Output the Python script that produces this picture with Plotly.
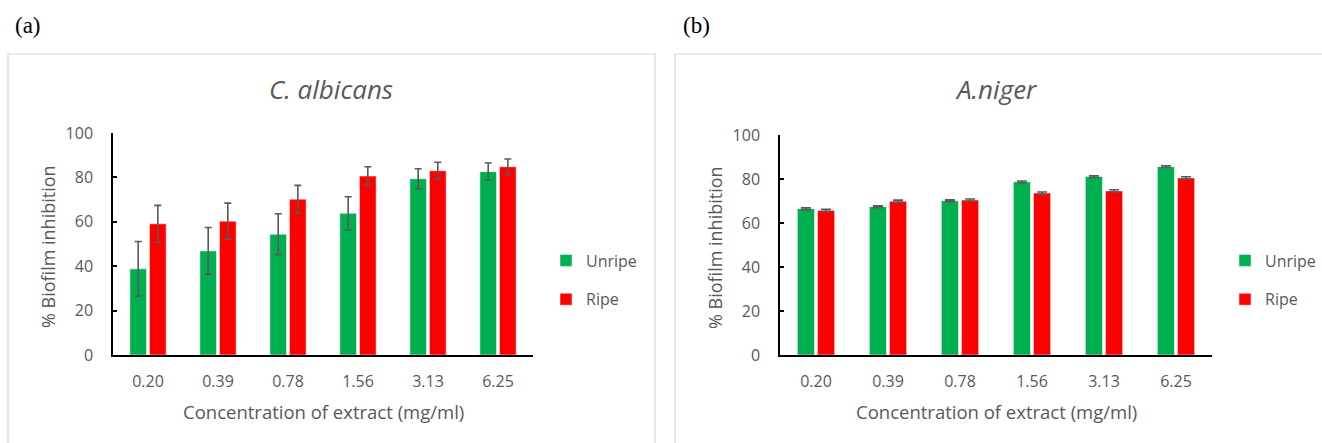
import plotly.graph_objects as go

categories = ["0.20", "0.39", "0.78", "1.56", "3.13", "6.25"]

# (a) C. albicans
ca_unripe = [38.8, 46.9, 54.4, 63.8, 79.4, 82.6]
ca_unripe_err = [12.3, 10.5, 9.2, 7.5, 4.5, 3.9]
ca_ripe = [59.1, 60.3, 70.2, 80.6, 83.0, 84.8]
ca_ripe_err = [8.3, 8.1, 6.2, 4.2, 3.8, 3.5]

# (b) A. niger
an_unripe = [66.5, 67.4, 70.1, 78.7, 81.1, 85.6]
an_unripe_err = [0.4, 0.4, 0.4, 0.4, 0.4, 0.4]
an_ripe = [65.7, 69.9, 70.4, 73.6, 74.6, 80.5]
an_ripe_err = [0.5, 0.5, 0.5, 0.5, 0.5, 0.5]

GREEN = "#00B050"
RED = "#FF0000"
GRAY = "#595959"
FONT = "Open Sans"
W, H = 1322, 443

def px(x):
    return x / W

def py(y):
    return 1 - y / H

fig = go.Figure()

def add_bars(vals, errs, name, color, xa, ya, legend, cap):
    fig.add_trace(go.Bar(
        x=categories, y=vals, name=name, xaxis=xa, yaxis=ya, legend=legend,
        legendgroup=legend + name,
        marker=dict(color=color, line=dict(color="rgba(255,255,255,0.5)", width=1)),
        error_y=dict(type="data", array=errs, visible=True, color=GRAY,
                     thickness=1.6, width=cap),
    ))

add_bars(ca_unripe, ca_unripe_err, "Unripe", GREEN, "x", "y", "legend", 3.5)
add_bars(ca_ripe, ca_ripe_err, "Ripe", RED, "x", "y", "legend", 3.5)
add_bars(an_unripe, an_unripe_err, "Unripe", GREEN, "x2", "y2", "legend2", 5)
add_bars(an_ripe, an_ripe_err, "Ripe", RED, "x2", "y2", "legend2", 5)

xcommon = dict(type="category", showline=True, linecolor="black", linewidth=1.5,
               ticks="", showgrid=False, zeroline=False, automargin=False,
               tickfont=dict(family=FONT, size=16, color=GRAY),
               ticklabelstandoff=11, fixedrange=True)
ycommon = dict(range=[0, 100], dtick=20, showline=True, linecolor="black", linewidth=1.5,
               ticks="inside", ticklen=4, tickcolor="black", tickwidth=1.5,
               showgrid=False, zeroline=False, automargin=False,
               tickfont=dict(family=FONT, size=16, color=GRAY),
               ticklabelstandoff=15, fixedrange=True)

legend_font = dict(family=FONT, size=16, color=GRAY)

fig.update_layout(
    width=W, height=H, autosize=False,
    margin=dict(l=0, r=0, t=0, b=0, autoexpand=False),
    paper_bgcolor="white", plot_bgcolor="white",
    barmode="group", bargap=0.44, bargroupgap=0.15,
    xaxis=dict(domain=[px(113), px(533)], anchor="y", **xcommon),
    yaxis=dict(domain=[py(355), py(133)], anchor="x", **ycommon),
    xaxis2=dict(domain=[px(780), px(1212)], anchor="y2", **xcommon),
    yaxis2=dict(domain=[py(355), py(135)], anchor="x2", **ycommon),
    legend=dict(x=px(546), y=py(280), xanchor="left", yanchor="middle",
                font=legend_font, tracegroupgap=15,
                bgcolor="rgba(0,0,0,0)", itemwidth=30),
    legend2=dict(x=px(1225), y=py(280), xanchor="left", yanchor="middle",
                 font=legend_font, tracegroupgap=15,
                 bgcolor="rgba(0,0,0,0)", itemwidth=30),
    shapes=[
        dict(type="rect", xref="paper", yref="paper", x0=px(8), x1=px(655),
             y0=-0.05, y1=py(54), line=dict(color="#D9D9D9", width=1.2)),
        dict(type="rect", xref="paper", yref="paper", x0=px(675), x1=px(1330),
             y0=-0.05, y1=py(54), line=dict(color="#D9D9D9", width=1.2)),
    ],
    annotations=[
        dict(text="(a)", x=px(13), y=py(25), xref="paper", yref="paper",
             xanchor="left", yanchor="middle", showarrow=False,
             font=dict(family="Liberation Serif", size=23, color="black")),
        dict(text="(b)", x=px(681), y=py(25), xref="paper", yref="paper",
             xanchor="left", yanchor="middle", showarrow=False,
             font=dict(family="Liberation Serif", size=23, color="black")),
        dict(text="<i>C. albicans</i>", x=px(331), y=py(89), xref="paper", yref="paper",
             xanchor="center", yanchor="middle", showarrow=False,
             font=dict(family=FONT, size=26, color=GRAY)),
        dict(text="<i>A.niger</i>", x=px(996), y=py(89), xref="paper", yref="paper",
             xanchor="center", yanchor="middle", showarrow=False,
             font=dict(family=FONT, size=26, color=GRAY)),
        dict(text="Concentration of extract (mg/ml)", x=px(323), y=py(411),
             xref="paper", yref="paper", xanchor="center", yanchor="middle",
             showarrow=False, font=dict(family=FONT, size=18.5, color=GRAY)),
        dict(text="Concentration of extract (mg/ml)", x=px(996), y=py(411),
             xref="paper", yref="paper", xanchor="center", yanchor="middle",
             showarrow=False, font=dict(family=FONT, size=18.5, color=GRAY)),
        dict(text="% Biofilm inhibition", x=px(48), y=py(247), xref="paper", yref="paper",
             xanchor="center", yanchor="middle", showarrow=False, textangle=-90,
             font=dict(family=FONT, size=18, color=GRAY)),
        dict(text="% Biofilm inhibition", x=px(715), y=py(247), xref="paper", yref="paper",
             xanchor="center", yanchor="middle", showarrow=False, textangle=-90,
             font=dict(family=FONT, size=18, color=GRAY)),
    ],
)

fig.write_html("out.html", config={"responsive": False, "displayModeBar": False})

with open("out.html", encoding="utf-8") as f:
    html = f.read()
html = html.replace("<head>", "<head><style>html,body{margin:0;padding:0;overflow:hidden;}</style>", 1)
with open("out.html", "w", encoding="utf-8") as f:
    f.write(html)
